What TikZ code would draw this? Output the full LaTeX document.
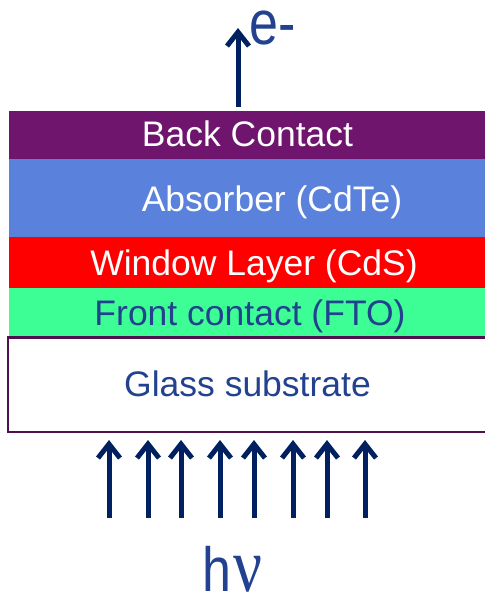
\documentclass[tikz,border=0pt]{standalone}
\usepackage{fontspec}
\setmainfont{Liberation Sans}
\newfontfamily\serifnu{Liberation Serif}
\usetikzlibrary{arrows.meta}
\definecolor{bcpurple}{HTML}{70156E}
\definecolor{absblue}{HTML}{5A82DC}
\definecolor{winred}{HTML}{FF0000}
\definecolor{ftogreen}{HTML}{3CFE94}
\definecolor{txtblue}{HTML}{22428F}
\definecolor{navy}{HTML}{002060}
\definecolor{glassborder}{HTML}{4E104E}
\tikzset{
  layer/.style={rectangle, draw=none, inner sep=0pt, anchor=north west, minimum width=480pt},
  lbl/.style={anchor=base, inner sep=0pt, font=\fontsize{35.5}{40}\selectfont},
  photon/.style={draw=navy, line width=5pt, -{Straight Barb[length=14pt,width=22pt]}},
}
\begin{document}
\begin{tikzpicture}[x=1pt,y=-1pt]
\useasboundingbox (0,0) rectangle (485,595);
\clip (0,0) rectangle (485,595);
% layers
\node[layer, fill=bcpurple, minimum height=48pt] (back) at (9,111) {};
\node[layer, fill=absblue, minimum height=78pt] (abs) at (9,159) {};
\node[layer, fill=winred, minimum height=51pt] (win) at (9,237) {};
\node[layer, fill=ftogreen, minimum height=49.5pt] (fto) at (9,288) {};
% glass substrate (open at the right)
\coordinate (gtr) at (490,337.5);
\coordinate (gtl) at (8,337.5);
\coordinate (gbl) at (8,432);
\coordinate (gbr) at (490,432);
\draw[glassborder, line width=2.5pt] (gtr) -- (gtl) -- (gbl) -- (gbr);
% labels
\node[lbl, text=white] (tback) at (247.5,146.5) {Back Contact};
\node[lbl, text=white] (tabs) at (272,211.5) {Absorber (CdTe)};
\node[lbl, text=white] (twin) at (254,275) {Window Layer (CdS)};
\node[lbl, text=txtblue] (tfto) at (250,325) {Front contact (FTO)};
\node[lbl, text=txtblue] (tglass) at (247.5,396.5) {Glass substrate};
% electron arrow
\coordinate (es) at (238,107);
\coordinate (ee) at (238,28);
\draw[photon] (es) -- (ee);
\node[anchor=base west, inner sep=0pt, text=txtblue, font=\fontsize{52}{60}\selectfont, yscale=1.2] (elec) at (249,44) {e-};
% photon arrows
\foreach \i/\x in {1/109,2/148,3/181,4/220,5/254,6/293,7/327,8/365}{
  \coordinate (ps\i) at (\x,518);
  \coordinate (pe\i) at (\x,440);
  \draw[photon] (ps\i) -- (pe\i);
}
\node[anchor=base west, inner sep=0pt, text=txtblue, font=\fontsize{52}{60}\selectfont, yscale=1.2] (hnu) at (202,591) {h\hspace{2pt}{\serifnu\fontsize{64}{70}\selectfont ν}};
\end{tikzpicture}
\end{document}
